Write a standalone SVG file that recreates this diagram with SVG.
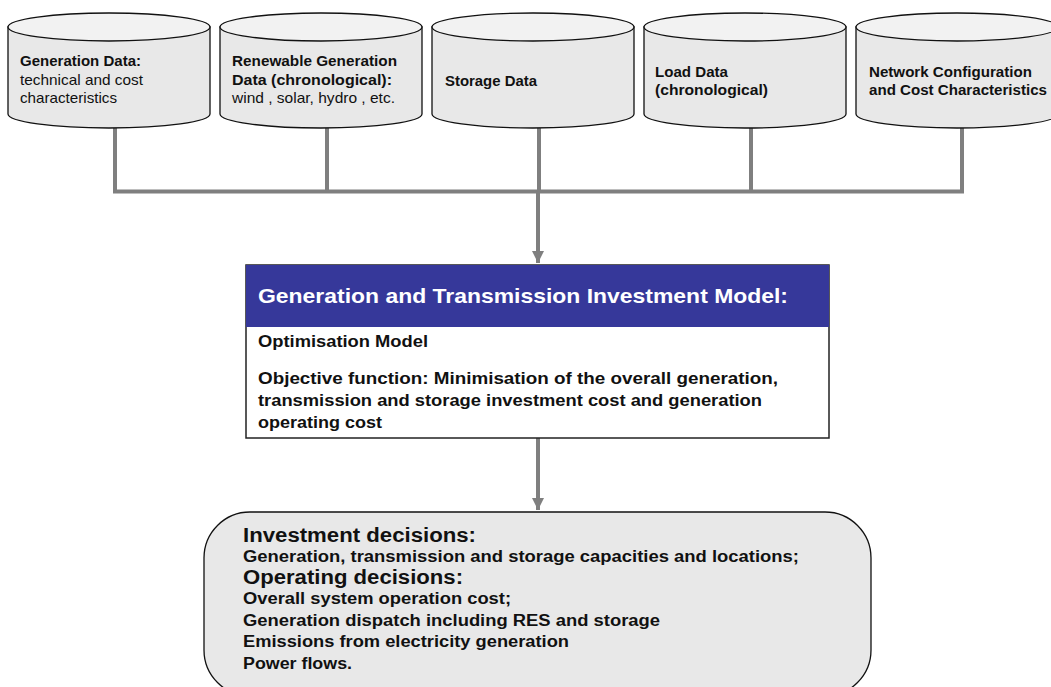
<svg xmlns="http://www.w3.org/2000/svg" xmlns:xlink="http://www.w3.org/1999/xlink" width="1051" height="687" viewBox="0 0 1051 687">
  <style>
    text { font-family: "Liberation Sans", Arial, sans-serif; fill: #111; }
    .b { font-weight: bold; }
    .cyl-txt { font-size: 14.5px; }
    .title { font-size: 20.5px; font-weight: bold; fill: #ffffff; }
    .body { font-size: 16px; font-weight: bold; }
    .head { font-size: 19.5px; font-weight: bold; }
    .wire { stroke: #7f7f7f; stroke-width: 4; fill: none; }
  </style>
  <defs>
    <!-- data-store cylinder, 202 wide -->
    <g id="cyl">
      <path d="M0,27 L0,114 A101,14 0 0 0 202,114 L202,27 Z" fill="#e8e8e8" stroke="#111" stroke-width="1.3"/>
      <ellipse cx="101" cy="27" rx="101" ry="14" fill="#f2f2f2" stroke="#111" stroke-width="1.3"/>
    </g>
    <marker id="arrow" viewBox="0 0 12 12" refX="12" refY="6" markerWidth="12" markerHeight="12" markerUnits="userSpaceOnUse" orient="auto">
      <path d="M0,0 L12,6 L0,12 Z" fill="#7f7f7f"/>
    </marker>
  </defs>

  <rect width="1051" height="687" fill="#ffffff"/>

  <!-- connectors -->
  <g id="connectors">
    <path class="wire" d="M115,128 V191.5 M327,128 V191.5 M539,128 V191.5 M751,128 V191.5 M962,128 V191.5 M113,191.5 H964"/>
    <path class="wire" d="M538,191.5 V263" marker-end="url(#arrow)"/>
    <path class="wire" d="M538,438 V510" marker-end="url(#arrow)"/>
  </g>

  <!-- input data stores -->
  <g id="gen-data">
    <use xlink:href="#cyl" x="8" y="0"/>
    <text class="cyl-txt b" x="20" y="66" textLength="121" lengthAdjust="spacingAndGlyphs">Generation Data:</text>
    <text class="cyl-txt" x="20" y="85" textLength="123" lengthAdjust="spacingAndGlyphs">technical and cost</text>
    <text class="cyl-txt" x="20" y="103" textLength="97" lengthAdjust="spacingAndGlyphs">characteristics</text>
  </g>
  <g id="res-data">
    <use xlink:href="#cyl" x="220" y="0"/>
    <text class="cyl-txt b" x="232" y="66" textLength="165" lengthAdjust="spacingAndGlyphs">Renewable Generation</text>
    <text class="cyl-txt b" x="232" y="85" textLength="160" lengthAdjust="spacingAndGlyphs">Data (chronological):</text>
    <text class="cyl-txt" x="232" y="103" textLength="163" lengthAdjust="spacingAndGlyphs">wind , solar, hydro , etc.</text>
  </g>
  <g id="storage-data">
    <use xlink:href="#cyl" x="432" y="0"/>
    <text class="cyl-txt b" x="445" y="86" textLength="92" lengthAdjust="spacingAndGlyphs">Storage Data</text>
  </g>
  <g id="load-data">
    <use xlink:href="#cyl" x="644" y="0"/>
    <text class="cyl-txt b" x="655" y="77" textLength="73" lengthAdjust="spacingAndGlyphs">Load Data</text>
    <text class="cyl-txt b" x="655" y="95" textLength="113" lengthAdjust="spacingAndGlyphs">(chronological)</text>
  </g>
  <g id="network-data">
    <use xlink:href="#cyl" x="856" y="0"/>
    <text class="cyl-txt b" x="869" y="77" textLength="163" lengthAdjust="spacingAndGlyphs">Network Configuration</text>
    <text class="cyl-txt b" x="869" y="95" textLength="178" lengthAdjust="spacingAndGlyphs">and Cost Characteristics</text>
  </g>

  <!-- investment model -->
  <g id="model">
    <rect x="246" y="265" width="583" height="173" fill="#ffffff" stroke="#222" stroke-width="1.5"/>
    <rect x="246" y="265" width="583" height="62" fill="#36389a"/>
    <text class="title" x="258" y="303" textLength="530" lengthAdjust="spacingAndGlyphs">Generation and Transmission Investment Model:</text>
    <text class="body" x="258" y="347" textLength="170" lengthAdjust="spacingAndGlyphs">Optimisation Model</text>
    <text class="body" x="258" y="384" textLength="520" lengthAdjust="spacingAndGlyphs">Objective function: Minimisation of the overall generation,</text>
    <text class="body" x="258" y="406" textLength="504" lengthAdjust="spacingAndGlyphs">transmission and storage investment cost and generation</text>
    <text class="body" x="258" y="428" textLength="124" lengthAdjust="spacingAndGlyphs">operating cost</text>
  </g>

  <!-- model outputs -->
  <g id="outputs">
    <rect x="204" y="512" width="667" height="184" rx="46" ry="46" fill="#e8e8e8" stroke="#111" stroke-width="1.3"/>
    <text class="head" x="243" y="542" textLength="233" lengthAdjust="spacingAndGlyphs">Investment decisions:</text>
    <text class="body" x="243" y="562" textLength="556" lengthAdjust="spacingAndGlyphs">Generation, transmission and storage capacities and locations;</text>
    <text class="head" x="243" y="584" textLength="220" lengthAdjust="spacingAndGlyphs">Operating decisions:</text>
    <text class="body" x="243" y="604" textLength="268" lengthAdjust="spacingAndGlyphs">Overall system operation cost;</text>
    <text class="body" x="243" y="626" textLength="417" lengthAdjust="spacingAndGlyphs">Generation dispatch including RES and storage</text>
    <text class="body" x="243" y="647" textLength="326" lengthAdjust="spacingAndGlyphs">Emissions from electricity generation</text>
    <text class="body" x="243" y="669" textLength="109" lengthAdjust="spacingAndGlyphs">Power flows.</text>
  </g>
</svg>
